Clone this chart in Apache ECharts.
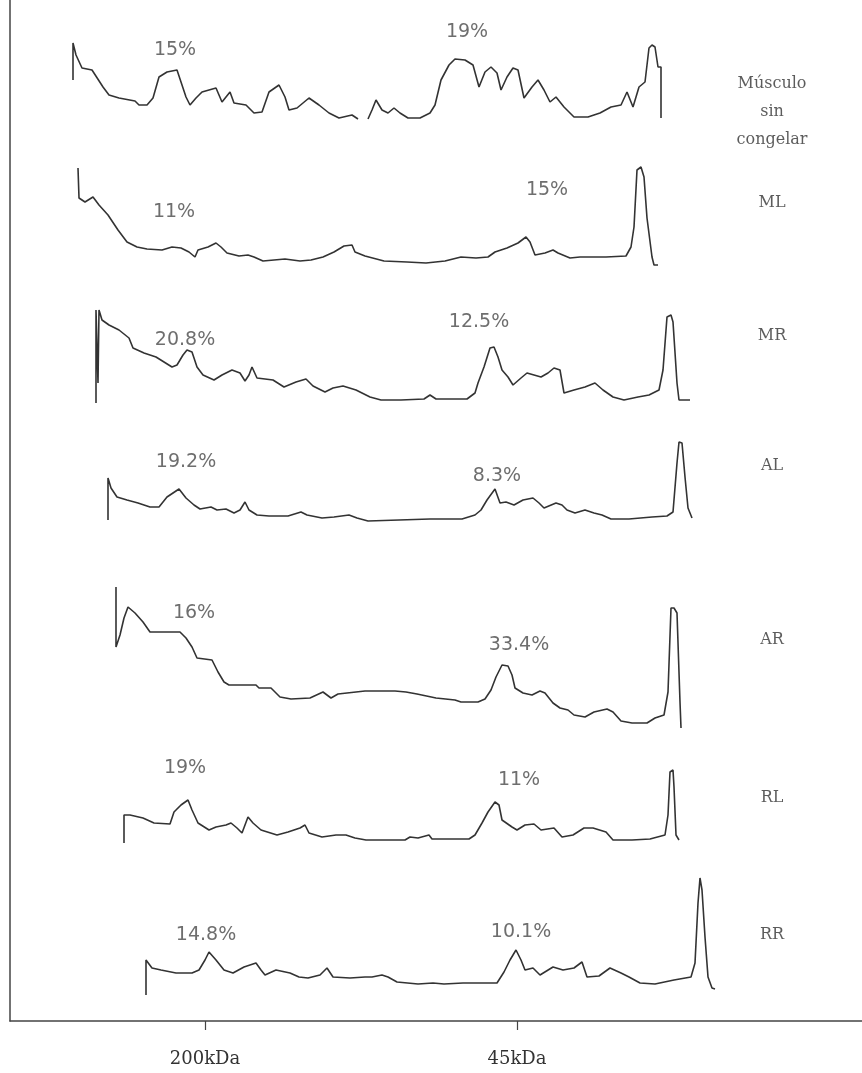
<!DOCTYPE html>
<html><head><meta charset="utf-8">
<script src="https://cdn.jsdelivr.net/npm/echarts@6/dist/echarts.min.js"></script>
<style>html,body{margin:0;padding:0;background:#fff}#c{width:862px;height:1073px}</style>
</head><body><div id="c"></div>
<script>
// Sample names (right side) and the baseline row of each densitometric trace
const sampleNames = ['Músculo\nsin\ncongelar', 'ML', 'MR', 'AL', 'AR', 'RL', 'RR'];
const baselineRows = [120, 265, 403, 521, 728, 843, 995];
const nameRows = [112, 203, 336, 466, 640, 798, 935];

// Traces: [migration position, optical density above the trace baseline]
const traceMusculo = [[73,40],[73,77],[76,65],[82,52],[92,50],[103,33],[109,25],[119,22],[135,19],[139,15],[147,15],[153,22],[159,43],[167,48],[177,50],[181,38],[186,23],[190,15],[196,22],[202,28],[216,32],[222,18],[230,28],[234,17],[246,15],[254,7],[262,8],[269,28],[279,35],[285,23],[289,10],[297,12],[309,22],[319,15],[329,7],[339,2],[352,5],[358,1],[363,'-'],[368,1],[372,10],[376,20],[382,10],[388,7],[394,12],[400,7],[408,2],[420,2],[430,7],[435,15],[441,40],[449,55],[455,61],[465,60],[473,55],[479,33],[485,48],[491,53],[497,47],[501,30],[507,43],[513,52],[518,50],[524,22],[532,33],[538,40],[544,30],[550,18],[556,23],[564,13],[574,3],[588,3],[600,7],[611,13],[621,15],[627,28],[633,13],[639,33],[645,38],[649,72],[652,75],[655,73],[658,53],[661,53],[661,2]];
const traceML = [[78,97],[79,67],[81,65],[85,63],[93,68],[99,60],[108,50],[118,35],[127,23],[137,18],[147,16],[162,15],[172,18],[181,17],[189,13],[195,8],[198,15],[208,18],[216,22],[221,18],[227,12],[239,9],[248,10],[254,8],[263,4],[285,6],[300,4],[311,5],[323,8],[334,13],[344,19],[352,20],[355,13],[365,9],[384,4],[407,3],[426,2],[445,4],[461,8],[476,7],[488,8],[495,13],[507,17],[518,22],[526,28],[530,23],[535,10],[545,12],[553,15],[558,12],[570,7],[580,8],[591,8],[606,8],[626,9],[631,18],[634,38],[637,95],[641,98],[644,88],[647,47],[649,48],[652,8],[654,0],[658,0]];
const traceMR = [[96,0],[96,93],[98,93],[98,20],[99,93],[102,83],[109,78],[119,73],[129,65],[133,55],[144,50],[156,46],[164,41],[172,36],[177,38],[183,48],[187,53],[192,51],[197,36],[203,28],[214,23],[222,28],[232,33],[240,30],[245,22],[249,28],[252,36],[257,25],[273,23],[284,16],[296,21],[306,24],[313,17],[325,11],[333,15],[343,17],[356,13],[370,6],[381,3],[401,3],[424,4],[430,8],[436,4],[467,4],[475,10],[478,20],[484,36],[490,55],[494,56],[498,46],[502,33],[508,26],[513,18],[521,25],[527,30],[541,26],[548,30],[554,35],[560,33],[564,10],[574,13],[585,16],[595,20],[603,13],[613,6],[624,3],[638,6],[649,8],[659,13],[663,33],[667,86],[671,88],[673,81],[677,20],[679,3],[690,3]];
const traceAL = [[108,1],[108,43],[111,33],[117,24],[127,21],[138,18],[150,14],[159,14],[167,24],[179,32],[186,23],[194,16],[200,12],[211,14],[217,11],[226,12],[234,8],[240,11],[245,19],[249,11],[257,6],[269,5],[288,5],[301,9],[307,6],[322,3],[334,4],[349,6],[357,3],[368,0],[430,2],[462,2],[475,6],[481,11],[487,21],[495,32],[500,18],[506,19],[514,16],[523,21],[533,23],[539,18],[544,13],[556,18],[562,16],[567,11],[575,8],[585,11],[594,8],[602,6],[611,2],[629,2],[652,4],[667,5],[673,9],[677,58],[679,79],[682,78],[685,44],[688,13],[692,3]];
const traceAR = [[116,141],[116,81],[120,93],[124,110],[128,121],[135,115],[143,106],[150,96],[165,96],[180,96],[186,90],[192,81],[197,70],[212,68],[218,56],[224,46],[229,43],[256,43],[259,40],[271,40],[280,31],[291,29],[310,30],[323,36],[331,30],[338,34],[365,37],[395,37],[406,36],[417,34],[436,30],[455,28],[461,26],[478,26],[485,29],[491,38],[496,51],[502,63],[508,62],[512,53],[515,40],[523,35],[532,33],[540,37],[545,35],[553,25],[560,20],[568,18],[574,13],[585,11],[594,16],[607,19],[613,16],[621,7],[632,5],[647,5],[655,10],[664,13],[668,36],[671,120],[674,120],[677,115],[680,26],[681,0]];
const traceRL = [[124,0],[124,28],[130,28],[143,25],[154,20],[170,19],[174,31],[181,38],[188,43],[192,33],[198,20],[209,13],[216,16],[226,18],[231,20],[237,15],[242,10],[248,26],[253,20],[261,13],[277,8],[288,11],[300,15],[305,18],[309,10],[322,6],[336,8],[346,8],[355,5],[366,3],[405,3],[410,6],[418,5],[429,8],[432,4],[469,4],[475,8],[482,20],[488,31],[495,41],[499,38],[502,23],[512,16],[517,13],[525,18],[534,19],[541,13],[554,15],[562,6],[573,8],[584,15],[593,15],[606,11],[613,3],[632,3],[650,4],[665,8],[668,28],[670,71],[673,73],[674,56],[676,8],[679,3]];
const traceRR = [[146,0],[146,35],[152,27],[161,25],[176,22],[192,22],[199,25],[205,35],[209,43],[216,35],[224,25],[233,22],[244,28],[256,32],[261,25],[265,20],[276,25],[290,22],[299,18],[308,17],[320,20],[327,27],[333,18],[350,17],[365,18],[372,18],[382,20],[388,18],[397,13],[418,11],[433,12],[444,11],[463,12],[497,12],[504,23],[510,35],[516,45],[521,35],[525,25],[533,27],[540,20],[553,28],[563,25],[574,27],[582,33],[587,18],[599,19],[610,27],[621,22],[629,18],[640,12],[655,11],[674,15],[691,18],[695,32],[698,92],[700,117],[702,105],[705,58],[708,18],[712,7],[715,6]];
const traces = [traceMusculo, traceML, traceMR, traceAL, traceAR, traceRL, traceRR];

// Peak percentage annotations: [text, position, row]
const percentLabels = [
  ['15%', 175, 50], ['19%', 467, 32],
  ['11%', 174, 212], ['15%', 547, 190],
  ['20.8%', 185, 340], ['12.5%', 479, 322],
  ['19.2%', 186, 462], ['8.3%', 497, 476],
  ['16%', 194, 613], ['33.4%', 519, 645],
  ['19%', 185, 768], ['11%', 519, 780],
  ['14.8%', 206, 935], ['10.1%', 521, 932]
];

// Molecular weight markers on the migration axis
const tickValues = [205, 517];
const tickLabels = ['200kDa', '45kDa'];

const AXIS_TOP = 1021;
const NAME_X = 772;

const series = traces.map((tr, i) => ({
  type: 'line',
  name: sampleNames[i],
  symbol: 'none',
  connectNulls: false,
  animation: false,
  lineStyle: { color: '#333', width: 1.6 },
  data: tr.map(p => [p[0], p[1] === '-' ? '-' : (AXIS_TOP - baselineRows[i]) + p[1]])
}));

series.push({
  type: 'scatter', symbolSize: 0, animation: false, silent: true,
  label: { show: true, position: 'inside', formatter: p => p.name,
    fontFamily: 'DejaVu Sans', fontSize: 19, color: '#4a4a4a' },
  data: percentLabels.map(l => ({ name: l[0], value: [l[1], AXIS_TOP - l[2]] }))
});
series.push({
  type: 'scatter', symbolSize: 0, animation: false, silent: true,
  label: { show: true, position: 'inside', formatter: p => p.name,
    fontFamily: 'DejaVu Serif', fontSize: 16, lineHeight: 28, color: '#333', align: 'center' },
  data: sampleNames.map((n, i) => ({ name: n, value: [NAME_X, AXIS_TOP - nameRows[i]] }))
});

const chart = echarts.init(document.getElementById('c'), null, { renderer: 'canvas' });
chart.setOption({
  backgroundColor: '#fff',
  animation: false,
  grid: { left: 10, right: 0, top: 0, bottom: 52, containLabel: false },
  xAxis: {
    type: 'value', min: 10, max: 862,
    axisLine: { show: true, onZero: false, lineStyle: { color: '#444', width: 1.5 } },
    splitLine: { show: false },
    axisTick: { show: true, customValues: tickValues, length: 9, lineStyle: { color: '#444', width: 1.2 } },
    axisLabel: { show: true, customValues: tickValues, margin: 29,
      formatter: v => tickLabels[tickValues.indexOf(v)] || '',
      fontFamily: 'DejaVu Serif', fontSize: 18, color: '#333' }
  },
  yAxis: {
    type: 'value', min: 0, max: AXIS_TOP,
    axisLine: { show: true, lineStyle: { color: '#444', width: 1.5 } },
    axisTick: { show: false }, axisLabel: { show: false }, splitLine: { show: false }
  },
  series: series
});
</script>
</body></html>
